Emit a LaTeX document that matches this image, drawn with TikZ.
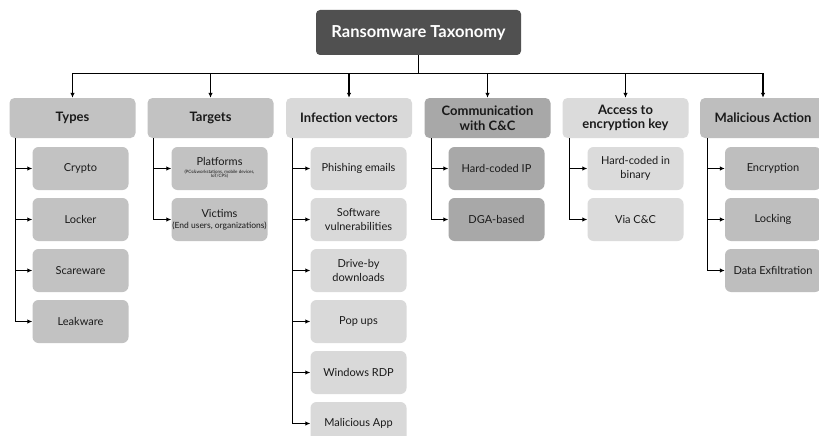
\documentclass[tikz,border=0pt]{standalone}
\usepackage{fontspec}
\setmainfont{Lato}
\usetikzlibrary{arrows.meta}
\definecolor{rootc}{HTML}{505050}
\definecolor{typc}{HTML}{C2C2C2}
\definecolor{infc}{HTML}{D9D9D9}
\definecolor{comc}{HTML}{A8A8A8}
\definecolor{accc}{HTML}{DBDBDB}
\definecolor{malc}{HTML}{BEBEBE}
\definecolor{txt}{HTML}{1A1A1A}
\tikzset{
  rootbox/.style={draw=none, fill=rootc, rounded corners=4pt, minimum width=205pt, minimum height=45pt, text=white, font=\fontsize{16.5}{18}\selectfont\bfseries, inner sep=0pt},
  catbox/.style={draw=none, rounded corners=5pt, minimum width=126pt, minimum height=40pt, align=center, text=txt, font=\fontsize{13}{14.5}\selectfont\bfseries, inner sep=0pt},
  childbox/.style={draw=none, rounded corners=6pt, minimum width=96pt, minimum height=43pt, align=center, text=txt, font=\fontsize{11}{13.5}\selectfont, inner sep=0pt},
  conn/.style={line width=1.1pt, draw=black, -{Latex[length=5pt,width=4.5pt]}},
  trunk/.style={line width=1.1pt, draw=black, -{Latex[length=5pt,width=4.5pt]}}
}
\begin{document}
\begin{tikzpicture}[x=1pt,y=-1pt]
\useasboundingbox[fill=white] (0,0) rectangle (819,436);
\node[rootbox] (root) at (418.5,32.5) {Ransomware Taxonomy};

\node[catbox, fill=typc] (types) at (72.5,118) {Types};
\node[catbox, fill=typc] (targets) at (210.5,118) {Targets};
\node[catbox, fill=infc] (inf) at (349,118) {Infection vectors};
\node[catbox, fill=comc] (com) at (487.5,118) {Communication\\with C\&C};
\node[catbox, fill=accc] (acc) at (625.5,118) {Access to\\encryption key};
\node[catbox, fill=malc] (mal) at (763,118) {Malicious Action};

\foreach \c in {types,targets,inf,com,acc,mal}
  \draw[conn] (root.south) -- ++(0,18.5) -| (\c.north);

% Types
\node[childbox, fill=typc] (t1) at (80.5,168.5) {Crypto};
\node[childbox, fill=typc] (t2) at (80.5,219.5) {Locker};
\node[childbox, fill=typc] (t3) at (80.5,270.5) {Scareware};
\node[childbox, fill=typc] (t4) at (80.5,321.5) {Leakware};
\foreach \c in {t1,t2,t3,t4}
  \draw[trunk] ([xshift=6pt]types.south west) |- (\c.west);

% Targets
\node[childbox, fill=typc] (g1) at (219.5,168.5) {Platforms\\[-3pt]{\fontsize{4.5}{5}\selectfont\begin{tabular}{@{}c@{}}(PCs\&workstations, mobile devices,\\[-1pt] IoT/CPS)\end{tabular}}};
\node[childbox, fill=typc] (g2) at (219.5,219.5) {Victims\\[-2pt]{\fontsize{8.5}{10}\selectfont (End users, organizations)}};
\foreach \c in {g1,g2}
  \draw[trunk] ([xshift=6pt]targets.south west) |- (\c.west);

% Infection vectors
\node[childbox, fill=infc] (i1) at (358.5,168.5) {Phishing emails};
\node[childbox, fill=infc] (i2) at (358.5,219.5) {Software\\vulnerabilities};
\node[childbox, fill=infc] (i3) at (358.5,270.5) {Drive-by\\downloads};
\node[childbox, fill=infc] (i4) at (358.5,321.5) {Pop ups};
\node[childbox, fill=infc] (i5) at (358.5,372.5) {Windows RDP};
\node[childbox, fill=infc] (i6) at (358.5,423.5) {Malicious App};
\foreach \c in {i1,i2,i3,i4,i5,i6}
  \draw[trunk] ([xshift=7pt]inf.south west) |- (\c.west);

% Communication
\node[childbox, fill=comc] (c1) at (496.5,168.5) {Hard-coded IP};
\node[childbox, fill=comc] (c2) at (496.5,219.5) {DGA-based};
\foreach \c in {c1,c2}
  \draw[trunk] ([xshift=7.5pt]com.south west) |- (\c.west);

% Access
\node[childbox, fill=accc] (a1) at (635.5,168.5) {Hard-coded in\\binary};
\node[childbox, fill=accc] (a2) at (635.5,219.5) {Via C\&C};
\foreach \c in {a1,a2}
  \draw[trunk] ([xshift=7.5pt]acc.south west) |- (\c.west);

% Malicious
\node[childbox, fill=malc] (m1) at (773,168.5) {Encryption};
\node[childbox, fill=malc] (m2) at (773,219.5) {Locking};
\node[childbox, fill=malc] (m3) at (773,270.5) {Data Exfiltration};
\foreach \c in {m1,m2,m3}
  \draw[trunk] ([xshift=8pt]mal.south west) |- (\c.west);
\end{tikzpicture}
\end{document}
